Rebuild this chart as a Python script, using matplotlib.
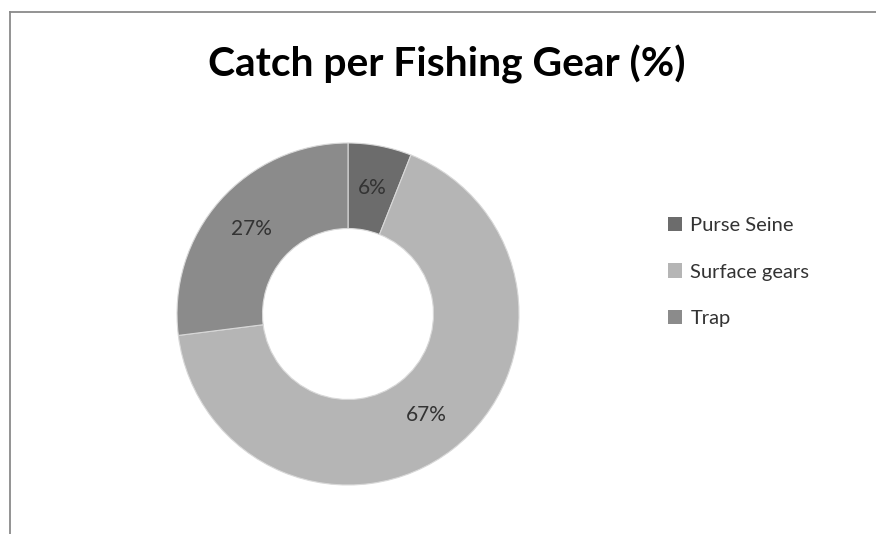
import matplotlib.pyplot as plt
from matplotlib.patches import Patch
from matplotlib.lines import Line2D

# catch share by gear type
gears = ['Purse Seine', 'Surface gears', 'Trap']
catch_pct = [6, 67, 27]
slice_colors = ['#6c6c6c', '#b5b5b5', '#8b8b8b']

plt.rcParams['font.family'] = ['Lato', 'DejaVu Sans']

W, H = 876, 534
fig = plt.figure(figsize=(W / 100, H / 100), dpi=100)

# donut centred at (348, 314) px, outer radius 171 px
cx, cy, r = 348, 314, 171
ax = fig.add_axes([(cx - r) / W, (H - cy - r) / H, 2 * r / W, 2 * r / H])
wedges, texts, autotexts = ax.pie(
    catch_pct, colors=slice_colors, startangle=90, counterclock=False,
    radius=1, autopct='%d%%', pctdistance=0.75,
    wedgeprops=dict(width=0.5, edgecolor='#d8d8d8', linewidth=0.8),
    textprops=dict(fontsize=15, color='#333333'))
ax.set_xlim(-1, 1)
ax.set_ylim(-1, 1)
ax.set_aspect('equal')
ax.axis('off')

fig.text(447 / W, 1 - 64 / H, 'Catch per Fishing Gear (%)', ha='center', va='center',
         fontsize=29.3, fontweight='bold', color='black')

handles = [Patch(facecolor=c, edgecolor='none') for c in slice_colors]
fig.legend(handles, gears, loc='center left', bbox_to_anchor=(650 / W, 1 - 272 / H),
           frameon=False, fontsize=14.5, labelcolor='#333333',
           handlelength=0.7, handleheight=0.7, handletextpad=0.4,
           labelspacing=1.45)

# chart area border (left and top only)
fig.add_artist(Line2D([9.5 / W, 9.5 / W], [0, 1 - 12 / H], color='#8a8a8a', lw=1.3))
fig.add_artist(Line2D([9.5 / W, 1], [1 - 12 / H, 1 - 12 / H], color='#8a8a8a', lw=1.3))

fig.savefig('out.png', dpi=100, facecolor='white')
